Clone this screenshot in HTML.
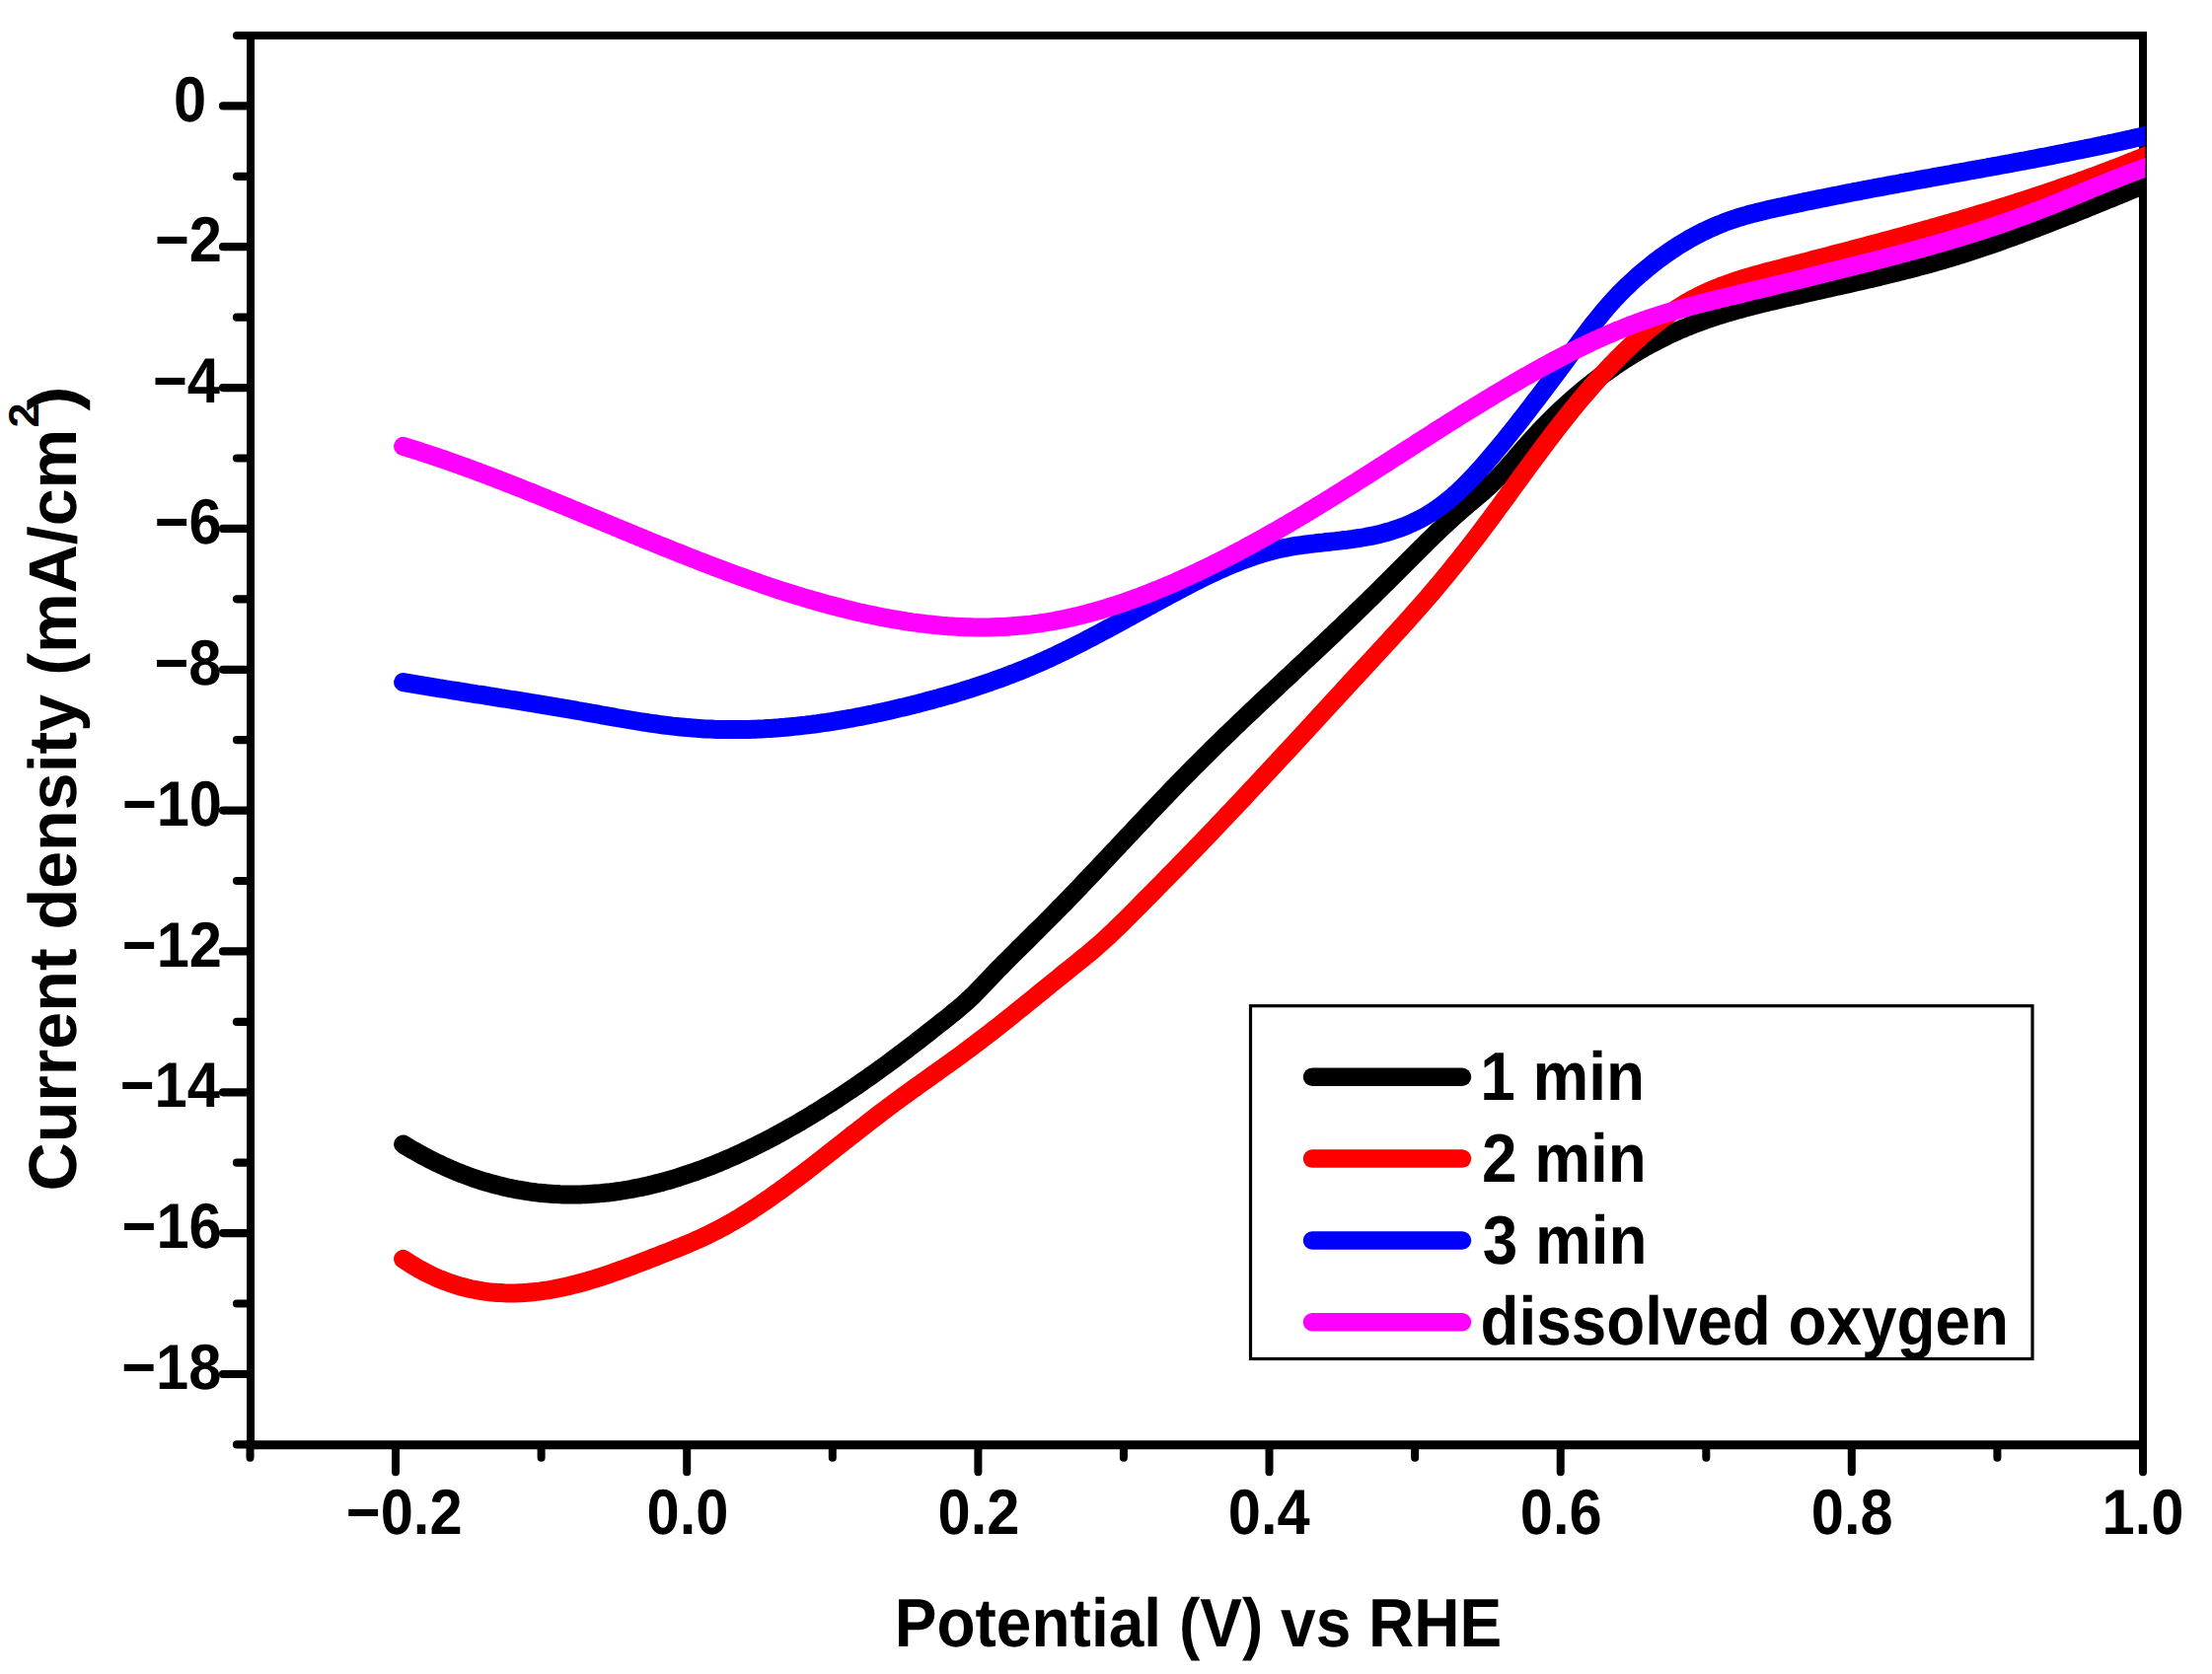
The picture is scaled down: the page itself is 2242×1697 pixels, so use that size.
<!DOCTYPE html>
<html lang="en"><head><meta charset="utf-8"><title>Current density vs potential</title>
<style>html,body{margin:0;padding:0;background:#fff;width:2242px;height:1697px;overflow:hidden}svg{display:block}</style></head>
<body>
<svg width="2242" height="1697" viewBox="0 0 2242 1697">
<rect x="0" y="0" width="2242" height="1697" fill="#fff"/>
<g stroke="#000" fill="none">
<path d="M254.0,36.0 V1464.7 M2172.0,36.0 V1464.7" stroke-width="8.0"/>
<path d="M250.0,36.0 H2176.0" stroke-width="8.2"/>
<path d="M250.0,1464.7 H2176.0" stroke-width="9.0"/>
<path d="M253.0,107.4 H226.0 M253.0,250.2 H226.0 M253.0,393.1 H226.0 M253.0,535.9 H226.0 M253.0,678.8 H226.0 M253.0,821.6 H226.0 M253.0,964.4 H226.0 M253.0,1107.3 H226.0 M253.0,1250.1 H226.0 M253.0,1393.0 H226.0 M253.0,36.0 H240.0 M253.0,178.8 H240.0 M253.0,321.7 H240.0 M253.0,464.5 H240.0 M253.0,607.3 H240.0 M253.0,750.2 H240.0 M253.0,893.0 H240.0 M253.0,1035.9 H240.0 M253.0,1178.7 H240.0 M253.0,1321.5 H240.0 M253.0,1464.4 H240.0" stroke-width="8.2" stroke-linecap="round"/>
<path d="M401.0,1465.7 V1492.2 M696.2,1465.7 V1492.2 M991.4,1465.7 V1492.2 M1286.5,1465.7 V1492.2 M1581.7,1465.7 V1492.2 M1876.8,1465.7 V1492.2 M2172.0,1465.7 V1492.2 M253.5,1465.7 V1477.7 M548.6,1465.7 V1477.7 M843.8,1465.7 V1477.7 M1138.9,1465.7 V1477.7 M1434.1,1465.7 V1477.7 M1729.3,1465.7 V1477.7 M2024.4,1465.7 V1477.7" stroke-width="8.0" stroke-linecap="round"/>
</g>
<clipPath id="pc"><rect x="234.0" y="0" width="1940.5" height="1697"/></clipPath>
<g clip-path="url(#pc)" fill="none" stroke-width="19.0" stroke-linecap="round" stroke-linejoin="round">
<path d="M408.6,1160.0 L411.6,1161.9 L414.6,1163.7 L417.6,1165.4 L420.6,1167.1 L423.6,1168.8 L426.6,1170.5 L429.6,1172.1 L432.6,1173.7 L435.6,1175.3 L438.6,1176.8 L441.6,1178.3 L444.6,1179.7 L447.6,1181.1 L450.6,1182.5 L453.6,1183.8 L456.6,1185.2 L459.6,1186.4 L462.6,1187.7 L465.6,1188.9 L468.6,1190.1 L471.6,1191.2 L474.6,1192.3 L477.6,1193.4 L480.6,1194.4 L483.6,1195.4 L486.6,1196.4 L489.6,1197.4 L492.6,1198.3 L495.6,1199.1 L498.6,1200.0 L501.6,1200.8 L504.6,1201.6 L507.6,1202.3 L510.6,1203.1 L513.6,1203.7 L516.6,1204.4 L519.6,1205.0 L522.6,1205.6 L525.6,1206.2 L528.6,1206.7 L531.6,1207.2 L534.6,1207.7 L537.6,1208.1 L540.6,1208.5 L543.6,1208.9 L546.6,1209.2 L549.6,1209.5 L552.6,1209.8 L555.6,1210.1 L558.6,1210.3 L561.6,1210.5 L564.6,1210.6 L567.6,1210.8 L570.6,1210.9 L573.6,1211.0 L576.6,1211.0 L579.6,1211.0 L582.6,1211.0 L585.6,1211.0 L588.6,1210.9 L591.6,1210.8 L594.6,1210.7 L597.6,1210.5 L600.6,1210.3 L603.6,1210.1 L606.6,1209.9 L609.6,1209.6 L612.6,1209.3 L615.6,1209.0 L618.6,1208.7 L621.6,1208.3 L624.6,1207.9 L627.6,1207.5 L630.6,1207.0 L633.6,1206.5 L636.6,1206.0 L639.6,1205.5 L642.6,1204.9 L645.6,1204.3 L648.6,1203.7 L651.6,1203.1 L654.6,1202.4 L657.6,1201.7 L660.6,1201.0 L663.6,1200.3 L666.6,1199.5 L669.6,1198.8 L672.6,1197.9 L675.6,1197.1 L678.6,1196.3 L681.6,1195.4 L684.6,1194.5 L687.6,1193.6 L690.6,1192.6 L693.6,1191.6 L696.6,1190.6 L699.6,1189.6 L702.6,1188.6 L705.6,1187.5 L708.6,1186.4 L711.6,1185.3 L714.6,1184.2 L717.6,1183.0 L720.6,1181.9 L723.6,1180.7 L726.6,1179.5 L729.6,1178.2 L732.6,1177.0 L735.6,1175.7 L738.6,1174.4 L741.6,1173.1 L744.6,1171.8 L747.6,1170.4 L750.6,1169.0 L753.6,1167.6 L756.6,1166.2 L759.6,1164.8 L762.6,1163.3 L765.6,1161.8 L768.6,1160.3 L771.6,1158.8 L774.6,1157.3 L777.6,1155.7 L780.6,1154.2 L783.6,1152.6 L786.6,1151.0 L789.6,1149.3 L792.6,1147.7 L795.6,1146.0 L798.6,1144.3 L801.6,1142.6 L804.6,1140.9 L807.6,1139.2 L810.6,1137.5 L813.6,1135.7 L816.6,1133.9 L819.6,1132.1 L822.6,1130.3 L825.6,1128.4 L828.6,1126.6 L831.6,1124.7 L834.6,1122.8 L837.6,1120.9 L840.6,1119.0 L843.6,1117.1 L846.6,1115.1 L849.6,1113.2 L852.6,1111.2 L855.6,1109.2 L858.6,1107.2 L861.6,1105.2 L864.6,1103.1 L867.6,1101.1 L870.6,1099.0 L873.6,1096.9 L876.6,1094.8 L879.6,1092.7 L882.6,1090.6 L885.6,1088.5 L888.6,1086.3 L891.6,1084.1 L894.6,1082.0 L897.6,1079.8 L900.6,1077.6 L903.6,1075.4 L906.6,1073.1 L909.6,1070.9 L912.6,1068.6 L915.6,1066.4 L918.6,1064.1 L921.6,1061.8 L924.6,1059.5 L927.6,1057.2 L930.6,1054.9 L933.6,1052.5 L936.6,1050.2 L939.6,1047.9 L942.6,1045.5 L945.6,1043.1 L948.6,1040.8 L951.6,1038.4 L954.6,1036.0 L957.6,1033.7 L960.6,1031.3 L963.6,1028.9 L966.6,1026.4 L969.6,1024.0 L972.6,1021.5 L975.6,1018.9 L978.6,1016.3 L981.6,1013.5 L984.6,1010.7 L987.6,1007.8 L990.6,1004.7 L993.6,1001.6 L996.6,998.4 L999.6,995.2 L1002.6,992.1 L1005.6,988.9 L1008.6,985.8 L1011.6,982.7 L1014.6,979.7 L1017.6,976.6 L1020.6,973.6 L1023.6,970.6 L1026.6,967.6 L1029.6,964.6 L1032.6,961.7 L1035.6,958.7 L1038.6,955.7 L1041.6,952.8 L1044.6,949.8 L1047.6,946.8 L1050.6,943.9 L1053.6,940.9 L1056.6,937.9 L1059.6,934.9 L1062.6,931.9 L1065.6,928.9 L1068.6,925.8 L1071.6,922.8 L1074.6,919.7 L1077.6,916.7 L1080.6,913.6 L1083.6,910.5 L1086.6,907.4 L1089.6,904.2 L1092.6,901.1 L1095.6,898.0 L1098.6,894.8 L1101.6,891.7 L1104.6,888.5 L1107.6,885.4 L1110.6,882.2 L1113.6,879.0 L1116.6,875.8 L1119.6,872.7 L1122.6,869.5 L1125.6,866.3 L1128.6,863.1 L1131.6,859.9 L1134.6,856.7 L1137.6,853.5 L1140.6,850.3 L1143.6,847.1 L1146.6,843.9 L1149.6,840.7 L1152.6,837.5 L1155.6,834.4 L1158.6,831.2 L1161.6,828.0 L1164.6,824.8 L1167.6,821.7 L1170.6,818.5 L1173.6,815.4 L1176.6,812.2 L1179.6,809.1 L1182.6,805.9 L1185.6,802.8 L1188.6,799.7 L1191.6,796.6 L1194.6,793.5 L1197.6,790.4 L1200.6,787.4 L1203.6,784.3 L1206.6,781.3 L1209.6,778.2 L1212.6,775.2 L1215.6,772.2 L1218.6,769.2 L1221.6,766.2 L1224.6,763.3 L1227.6,760.3 L1230.6,757.3 L1233.6,754.4 L1236.6,751.5 L1239.6,748.6 L1242.6,745.7 L1245.6,742.8 L1248.6,739.9 L1251.6,737.0 L1254.6,734.1 L1257.6,731.2 L1260.6,728.4 L1263.6,725.5 L1266.6,722.7 L1269.6,719.8 L1272.6,717.0 L1275.6,714.1 L1278.6,711.3 L1281.6,708.5 L1284.6,705.7 L1287.6,702.8 L1290.6,700.0 L1293.6,697.2 L1296.6,694.4 L1299.6,691.6 L1302.6,688.8 L1305.6,686.0 L1308.6,683.2 L1311.6,680.3 L1314.6,677.5 L1317.6,674.7 L1320.6,671.9 L1323.6,669.1 L1326.6,666.3 L1329.6,663.5 L1332.6,660.7 L1335.6,657.8 L1338.6,655.0 L1341.6,652.2 L1344.6,649.3 L1347.6,646.5 L1350.6,643.7 L1353.6,640.8 L1356.6,637.9 L1359.6,635.1 L1362.6,632.2 L1365.6,629.3 L1368.6,626.5 L1371.6,623.6 L1374.6,620.7 L1377.6,617.7 L1380.6,614.8 L1383.6,611.9 L1386.6,609.0 L1389.6,606.0 L1392.6,603.1 L1395.6,600.1 L1398.6,597.1 L1401.6,594.2 L1404.6,591.2 L1407.6,588.2 L1410.6,585.2 L1413.6,582.2 L1416.6,579.2 L1419.6,576.2 L1422.6,573.2 L1425.6,570.2 L1428.6,567.2 L1431.6,564.2 L1434.6,561.2 L1437.6,558.2 L1440.6,555.2 L1443.6,552.3 L1446.6,549.3 L1449.6,546.4 L1452.6,543.5 L1455.6,540.6 L1458.6,537.7 L1461.6,534.9 L1464.6,532.1 L1467.6,529.3 L1470.6,526.5 L1473.6,523.8 L1476.6,521.1 L1479.6,518.4 L1482.6,515.8 L1485.6,513.2 L1488.6,510.7 L1491.6,508.2 L1494.6,505.7 L1497.6,503.1 L1500.6,500.6 L1503.6,498.0 L1506.6,495.3 L1509.6,492.6 L1512.6,489.7 L1515.6,486.8 L1518.6,483.7 L1521.6,480.5 L1524.6,477.3 L1527.6,474.0 L1530.6,470.6 L1533.6,467.2 L1536.6,463.7 L1539.6,460.3 L1542.6,456.8 L1545.6,453.4 L1548.6,449.9 L1551.6,446.6 L1554.6,443.2 L1557.6,440.0 L1560.6,436.8 L1563.6,433.6 L1566.6,430.5 L1569.6,427.5 L1572.6,424.5 L1575.6,421.5 L1578.6,418.6 L1581.6,415.8 L1584.6,413.0 L1587.6,410.2 L1590.6,407.5 L1593.6,404.8 L1596.6,402.2 L1599.6,399.6 L1602.6,397.1 L1605.6,394.6 L1608.6,392.2 L1611.6,389.8 L1614.6,387.4 L1617.6,385.1 L1620.6,382.8 L1623.6,380.5 L1626.6,378.3 L1629.6,376.2 L1632.6,374.0 L1635.6,371.9 L1638.6,369.9 L1641.6,367.9 L1644.6,365.9 L1647.6,363.9 L1650.6,362.0 L1653.6,360.2 L1656.6,358.3 L1659.6,356.5 L1662.6,354.8 L1665.6,353.0 L1668.6,351.3 L1671.6,349.7 L1674.6,348.1 L1677.6,346.5 L1680.6,344.9 L1683.6,343.4 L1686.6,341.9 L1689.6,340.4 L1692.6,339.0 L1695.6,337.6 L1698.6,336.3 L1701.6,334.9 L1704.6,333.6 L1707.6,332.4 L1710.6,331.1 L1713.6,329.9 L1716.6,328.7 L1719.6,327.6 L1722.6,326.5 L1725.6,325.4 L1728.6,324.3 L1731.6,323.3 L1734.6,322.3 L1737.6,321.3 L1740.6,320.3 L1743.6,319.3 L1746.6,318.4 L1749.6,317.5 L1752.6,316.6 L1755.6,315.7 L1758.6,314.9 L1761.6,314.0 L1764.6,313.2 L1767.6,312.4 L1770.6,311.6 L1773.6,310.8 L1776.6,310.0 L1779.6,309.3 L1782.6,308.5 L1785.6,307.8 L1788.6,307.1 L1791.6,306.3 L1794.6,305.6 L1797.6,304.9 L1800.6,304.2 L1803.6,303.5 L1806.6,302.8 L1809.6,302.1 L1812.6,301.4 L1815.6,300.7 L1818.6,300.0 L1821.6,299.4 L1824.6,298.7 L1827.6,298.0 L1830.6,297.3 L1833.6,296.6 L1836.6,296.0 L1839.6,295.3 L1842.6,294.6 L1845.6,294.0 L1848.6,293.3 L1851.6,292.6 L1854.6,291.9 L1857.6,291.3 L1860.6,290.6 L1863.6,289.9 L1866.6,289.2 L1869.6,288.6 L1872.6,287.9 L1875.6,287.2 L1878.6,286.5 L1881.6,285.8 L1884.6,285.2 L1887.6,284.5 L1890.6,283.8 L1893.6,283.1 L1896.6,282.4 L1899.6,281.7 L1902.6,281.0 L1905.6,280.2 L1908.6,279.5 L1911.6,278.8 L1914.6,278.1 L1917.6,277.3 L1920.6,276.6 L1923.6,275.9 L1926.6,275.1 L1929.6,274.3 L1932.6,273.6 L1935.6,272.8 L1938.6,272.0 L1941.6,271.2 L1944.6,270.4 L1947.6,269.6 L1950.6,268.8 L1953.6,268.0 L1956.6,267.2 L1959.6,266.3 L1962.6,265.5 L1965.6,264.6 L1968.6,263.8 L1971.6,262.9 L1974.6,262.0 L1977.6,261.1 L1980.6,260.2 L1983.6,259.3 L1986.6,258.3 L1989.6,257.4 L1992.6,256.5 L1995.6,255.5 L1998.6,254.5 L2001.6,253.5 L2004.6,252.5 L2007.6,251.5 L2010.6,250.5 L2013.6,249.5 L2016.6,248.5 L2019.6,247.5 L2022.6,246.4 L2025.6,245.4 L2028.6,244.3 L2031.6,243.2 L2034.6,242.1 L2037.6,241.1 L2040.6,240.0 L2043.6,238.9 L2046.6,237.8 L2049.6,236.7 L2052.6,235.5 L2055.6,234.4 L2058.6,233.3 L2061.6,232.1 L2064.6,231.0 L2067.6,229.8 L2070.6,228.7 L2073.6,227.5 L2076.6,226.4 L2079.6,225.2 L2082.6,224.0 L2085.6,222.8 L2088.6,221.7 L2091.6,220.5 L2094.6,219.3 L2097.6,218.1 L2100.6,216.9 L2103.6,215.7 L2106.6,214.5 L2109.6,213.3 L2112.6,212.1 L2115.6,210.9 L2118.6,209.6 L2121.6,208.4 L2124.6,207.2 L2127.6,206.0 L2130.6,204.8 L2133.6,203.5 L2136.6,202.3 L2139.6,201.1 L2142.6,199.9 L2145.6,198.6 L2148.6,197.4 L2151.6,196.2 L2154.6,194.9 L2157.6,193.7 L2160.6,192.5 L2163.6,191.3 L2166.6,190.0 L2169.6,188.8 L2172.6,187.6 L2175.6,186.4 L2178.6,185.1 L2181.6,183.9 L2184.6,182.7" stroke="#000"/>
<path d="M408.6,1276.3 L411.6,1278.3 L414.6,1280.2 L417.6,1282.1 L420.6,1284.0 L423.6,1285.7 L426.6,1287.4 L429.6,1289.0 L432.6,1290.6 L435.6,1292.1 L438.6,1293.5 L441.6,1294.9 L444.6,1296.2 L447.6,1297.4 L450.6,1298.6 L453.6,1299.7 L456.6,1300.8 L459.6,1301.8 L462.6,1302.8 L465.6,1303.7 L468.6,1304.5 L471.6,1305.3 L474.6,1306.0 L477.6,1306.7 L480.6,1307.3 L483.6,1307.9 L486.6,1308.4 L489.6,1308.9 L492.6,1309.3 L495.6,1309.7 L498.6,1310.0 L501.6,1310.2 L504.6,1310.5 L507.6,1310.6 L510.6,1310.8 L513.6,1310.9 L516.6,1310.9 L519.6,1310.9 L522.6,1310.9 L525.6,1310.8 L528.6,1310.7 L531.6,1310.5 L534.6,1310.3 L537.6,1310.0 L540.6,1309.7 L543.6,1309.4 L546.6,1309.1 L549.6,1308.7 L552.6,1308.2 L555.6,1307.8 L558.6,1307.3 L561.6,1306.7 L564.6,1306.1 L567.6,1305.5 L570.6,1304.9 L573.6,1304.2 L576.6,1303.6 L579.6,1302.8 L582.6,1302.1 L585.6,1301.3 L588.6,1300.5 L591.6,1299.7 L594.6,1298.8 L597.6,1297.9 L600.6,1297.0 L603.6,1296.1 L606.6,1295.2 L609.6,1294.2 L612.6,1293.2 L615.6,1292.2 L618.6,1291.2 L621.6,1290.1 L624.6,1289.1 L627.6,1288.0 L630.6,1286.9 L633.6,1285.8 L636.6,1284.7 L639.6,1283.6 L642.6,1282.5 L645.6,1281.3 L648.6,1280.2 L651.6,1279.0 L654.6,1277.9 L657.6,1276.7 L660.6,1275.5 L663.6,1274.4 L666.6,1273.2 L669.6,1272.0 L672.6,1270.8 L675.6,1269.7 L678.6,1268.5 L681.6,1267.3 L684.6,1266.1 L687.6,1264.9 L690.6,1263.7 L693.6,1262.4 L696.6,1261.2 L699.6,1259.9 L702.6,1258.6 L705.6,1257.3 L708.6,1256.0 L711.6,1254.6 L714.6,1253.2 L717.6,1251.8 L720.6,1250.3 L723.6,1248.8 L726.6,1247.3 L729.6,1245.7 L732.6,1244.1 L735.6,1242.5 L738.6,1240.8 L741.6,1239.1 L744.6,1237.3 L747.6,1235.6 L750.6,1233.8 L753.6,1231.9 L756.6,1230.0 L759.6,1228.1 L762.6,1226.2 L765.6,1224.2 L768.6,1222.3 L771.6,1220.2 L774.6,1218.2 L777.6,1216.1 L780.6,1214.1 L783.6,1211.9 L786.6,1209.8 L789.6,1207.7 L792.6,1205.5 L795.6,1203.3 L798.6,1201.1 L801.6,1198.9 L804.6,1196.7 L807.6,1194.4 L810.6,1192.1 L813.6,1189.9 L816.6,1187.6 L819.6,1185.3 L822.6,1183.0 L825.6,1180.6 L828.6,1178.3 L831.6,1176.0 L834.6,1173.6 L837.6,1171.3 L840.6,1168.9 L843.6,1166.6 L846.6,1164.2 L849.6,1161.8 L852.6,1159.5 L855.6,1157.1 L858.6,1154.8 L861.6,1152.4 L864.6,1150.0 L867.6,1147.7 L870.6,1145.3 L873.6,1143.0 L876.6,1140.7 L879.6,1138.3 L882.6,1136.0 L885.6,1133.7 L888.6,1131.4 L891.6,1129.1 L894.6,1126.8 L897.6,1124.6 L900.6,1122.3 L903.6,1120.1 L906.6,1117.8 L909.6,1115.6 L912.6,1113.4 L915.6,1111.2 L918.6,1109.1 L921.6,1106.9 L924.6,1104.7 L927.6,1102.6 L930.6,1100.4 L933.6,1098.3 L936.6,1096.1 L939.6,1094.0 L942.6,1091.9 L945.6,1089.7 L948.6,1087.6 L951.6,1085.4 L954.6,1083.3 L957.6,1081.1 L960.6,1079.0 L963.6,1076.8 L966.6,1074.6 L969.6,1072.5 L972.6,1070.3 L975.6,1068.1 L978.6,1065.9 L981.6,1063.7 L984.6,1061.4 L987.6,1059.2 L990.6,1056.9 L993.6,1054.6 L996.6,1052.3 L999.6,1050.0 L1002.6,1047.7 L1005.6,1045.4 L1008.6,1043.0 L1011.6,1040.7 L1014.6,1038.3 L1017.6,1035.9 L1020.6,1033.6 L1023.6,1031.2 L1026.6,1028.8 L1029.6,1026.3 L1032.6,1023.9 L1035.6,1021.5 L1038.6,1019.1 L1041.6,1016.7 L1044.6,1014.2 L1047.6,1011.8 L1050.6,1009.4 L1053.6,1006.9 L1056.6,1004.5 L1059.6,1002.0 L1062.6,999.6 L1065.6,997.2 L1068.6,994.7 L1071.6,992.3 L1074.6,989.9 L1077.6,987.4 L1080.6,985.0 L1083.6,982.6 L1086.6,980.2 L1089.6,977.8 L1092.6,975.4 L1095.6,972.9 L1098.6,970.5 L1101.6,968.1 L1104.6,965.6 L1107.6,963.1 L1110.6,960.5 L1113.6,957.9 L1116.6,955.2 L1119.6,952.5 L1122.6,949.8 L1125.6,946.9 L1128.6,944.1 L1131.6,941.2 L1134.6,938.3 L1137.6,935.4 L1140.6,932.4 L1143.6,929.4 L1146.6,926.4 L1149.6,923.4 L1152.6,920.4 L1155.6,917.3 L1158.6,914.3 L1161.6,911.2 L1164.6,908.2 L1167.6,905.2 L1170.6,902.1 L1173.6,899.1 L1176.6,896.1 L1179.6,893.0 L1182.6,890.0 L1185.6,886.9 L1188.6,883.9 L1191.6,880.8 L1194.6,877.8 L1197.6,874.7 L1200.6,871.6 L1203.6,868.5 L1206.6,865.4 L1209.6,862.3 L1212.6,859.2 L1215.6,856.1 L1218.6,853.0 L1221.6,849.9 L1224.6,846.7 L1227.6,843.6 L1230.6,840.5 L1233.6,837.3 L1236.6,834.1 L1239.6,831.0 L1242.6,827.8 L1245.6,824.6 L1248.6,821.5 L1251.6,818.3 L1254.6,815.1 L1257.6,811.9 L1260.6,808.7 L1263.6,805.5 L1266.6,802.3 L1269.6,799.1 L1272.6,795.9 L1275.6,792.7 L1278.6,789.5 L1281.6,786.2 L1284.6,783.0 L1287.6,779.8 L1290.6,776.6 L1293.6,773.3 L1296.6,770.1 L1299.6,766.8 L1302.6,763.6 L1305.6,760.4 L1308.6,757.1 L1311.6,753.9 L1314.6,750.6 L1317.6,747.4 L1320.6,744.1 L1323.6,740.9 L1326.6,737.6 L1329.6,734.4 L1332.6,731.1 L1335.6,727.8 L1338.6,724.6 L1341.6,721.3 L1344.6,718.1 L1347.6,714.8 L1350.6,711.6 L1353.6,708.3 L1356.6,705.1 L1359.6,701.8 L1362.6,698.5 L1365.6,695.3 L1368.6,692.0 L1371.6,688.8 L1374.6,685.5 L1377.6,682.3 L1380.6,679.0 L1383.6,675.8 L1386.6,672.6 L1389.6,669.3 L1392.6,666.1 L1395.6,662.8 L1398.6,659.6 L1401.6,656.3 L1404.6,653.1 L1407.6,649.8 L1410.6,646.5 L1413.6,643.2 L1416.6,640.0 L1419.6,636.6 L1422.6,633.3 L1425.6,630.0 L1428.6,626.7 L1431.6,623.3 L1434.6,619.9 L1437.6,616.5 L1440.6,613.1 L1443.6,609.6 L1446.6,606.2 L1449.6,602.7 L1452.6,599.2 L1455.6,595.6 L1458.6,592.1 L1461.6,588.5 L1464.6,584.9 L1467.6,581.2 L1470.6,577.5 L1473.6,573.8 L1476.6,570.1 L1479.6,566.3 L1482.6,562.5 L1485.6,558.7 L1488.6,554.9 L1491.6,551.0 L1494.6,547.1 L1497.6,543.2 L1500.6,539.2 L1503.6,535.2 L1506.6,531.2 L1509.6,527.2 L1512.6,523.2 L1515.6,519.1 L1518.6,515.0 L1521.6,511.0 L1524.6,506.9 L1527.6,502.8 L1530.6,498.6 L1533.6,494.5 L1536.6,490.4 L1539.6,486.3 L1542.6,482.2 L1545.6,478.1 L1548.6,474.0 L1551.6,469.9 L1554.6,465.9 L1557.6,461.8 L1560.6,457.8 L1563.6,453.7 L1566.6,449.7 L1569.6,445.8 L1572.6,441.8 L1575.6,437.9 L1578.6,434.0 L1581.6,430.2 L1584.6,426.4 L1587.6,422.6 L1590.6,418.8 L1593.6,415.1 L1596.6,411.5 L1599.6,407.8 L1602.6,404.2 L1605.6,400.7 L1608.6,397.2 L1611.6,393.7 L1614.6,390.3 L1617.6,386.9 L1620.6,383.5 L1623.6,380.2 L1626.6,377.0 L1629.6,373.8 L1632.6,370.6 L1635.6,367.5 L1638.6,364.4 L1641.6,361.4 L1644.6,358.4 L1647.6,355.4 L1650.6,352.6 L1653.6,349.7 L1656.6,347.0 L1659.6,344.2 L1662.6,341.5 L1665.6,338.9 L1668.6,336.3 L1671.6,333.8 L1674.6,331.4 L1677.6,328.9 L1680.6,326.6 L1683.6,324.3 L1686.6,322.0 L1689.6,319.9 L1692.6,317.7 L1695.6,315.7 L1698.6,313.7 L1701.6,311.7 L1704.6,309.8 L1707.6,308.0 L1710.6,306.2 L1713.6,304.5 L1716.6,302.9 L1719.6,301.3 L1722.6,299.8 L1725.6,298.3 L1728.6,296.9 L1731.6,295.5 L1734.6,294.2 L1737.6,292.9 L1740.6,291.7 L1743.6,290.5 L1746.6,289.4 L1749.6,288.3 L1752.6,287.2 L1755.6,286.2 L1758.6,285.1 L1761.6,284.2 L1764.6,283.2 L1767.6,282.3 L1770.6,281.4 L1773.6,280.5 L1776.6,279.6 L1779.6,278.8 L1782.6,278.0 L1785.6,277.1 L1788.6,276.3 L1791.6,275.5 L1794.6,274.7 L1797.6,274.0 L1800.6,273.2 L1803.6,272.4 L1806.6,271.6 L1809.6,270.8 L1812.6,270.0 L1815.6,269.3 L1818.6,268.5 L1821.6,267.7 L1824.6,266.9 L1827.6,266.1 L1830.6,265.4 L1833.6,264.6 L1836.6,263.8 L1839.6,263.0 L1842.6,262.2 L1845.6,261.4 L1848.6,260.7 L1851.6,259.9 L1854.6,259.1 L1857.6,258.3 L1860.6,257.5 L1863.6,256.7 L1866.6,255.9 L1869.6,255.2 L1872.6,254.4 L1875.6,253.6 L1878.6,252.8 L1881.6,252.0 L1884.6,251.2 L1887.6,250.4 L1890.6,249.6 L1893.6,248.8 L1896.6,248.0 L1899.6,247.2 L1902.6,246.4 L1905.6,245.6 L1908.6,244.8 L1911.6,244.0 L1914.6,243.2 L1917.6,242.4 L1920.6,241.5 L1923.6,240.7 L1926.6,239.9 L1929.6,239.1 L1932.6,238.3 L1935.6,237.4 L1938.6,236.6 L1941.6,235.8 L1944.6,234.9 L1947.6,234.1 L1950.6,233.3 L1953.6,232.4 L1956.6,231.6 L1959.6,230.7 L1962.6,229.9 L1965.6,229.0 L1968.6,228.2 L1971.6,227.3 L1974.6,226.5 L1977.6,225.6 L1980.6,224.7 L1983.6,223.9 L1986.6,223.0 L1989.6,222.1 L1992.6,221.2 L1995.6,220.3 L1998.6,219.4 L2001.6,218.5 L2004.6,217.6 L2007.6,216.7 L2010.6,215.8 L2013.6,214.9 L2016.6,214.0 L2019.6,213.1 L2022.6,212.2 L2025.6,211.2 L2028.6,210.3 L2031.6,209.4 L2034.6,208.4 L2037.6,207.5 L2040.6,206.5 L2043.6,205.6 L2046.6,204.6 L2049.6,203.7 L2052.6,202.7 L2055.6,201.7 L2058.6,200.7 L2061.6,199.7 L2064.6,198.8 L2067.6,197.8 L2070.6,196.8 L2073.6,195.8 L2076.6,194.7 L2079.6,193.7 L2082.6,192.7 L2085.6,191.7 L2088.6,190.6 L2091.6,189.6 L2094.6,188.6 L2097.6,187.5 L2100.6,186.4 L2103.6,185.4 L2106.6,184.3 L2109.6,183.2 L2112.6,182.2 L2115.6,181.1 L2118.6,180.0 L2121.6,178.9 L2124.6,177.8 L2127.6,176.7 L2130.6,175.5 L2133.6,174.4 L2136.6,173.3 L2139.6,172.1 L2142.6,171.0 L2145.6,169.8 L2148.6,168.7 L2151.6,167.5 L2154.6,166.3 L2157.6,165.1 L2160.6,163.9 L2163.6,162.8 L2166.6,161.5 L2169.6,160.3 L2172.6,159.1 L2175.6,157.9 L2178.6,156.7 L2181.6,155.5 L2184.6,154.3" stroke="#f00"/>
<path d="M408.6,691.6 L411.6,692.1 L414.6,692.6 L417.6,693.1 L420.6,693.6 L423.6,694.1 L426.6,694.6 L429.6,695.1 L432.6,695.6 L435.6,696.1 L438.6,696.6 L441.6,697.1 L444.6,697.6 L447.6,698.0 L450.6,698.5 L453.6,699.0 L456.6,699.5 L459.6,700.0 L462.6,700.4 L465.6,700.9 L468.6,701.4 L471.6,701.9 L474.6,702.4 L477.6,702.8 L480.6,703.3 L483.6,703.8 L486.6,704.2 L489.6,704.7 L492.6,705.2 L495.6,705.7 L498.6,706.1 L501.6,706.6 L504.6,707.1 L507.6,707.6 L510.6,708.0 L513.6,708.5 L516.6,709.0 L519.6,709.5 L522.6,709.9 L525.6,710.4 L528.6,710.9 L531.6,711.4 L534.6,711.9 L537.6,712.4 L540.6,712.8 L543.6,713.3 L546.6,713.8 L549.6,714.3 L552.6,714.8 L555.6,715.3 L558.6,715.8 L561.6,716.3 L564.6,716.8 L567.6,717.3 L570.6,717.9 L573.6,718.4 L576.6,718.9 L579.6,719.4 L582.6,719.9 L585.6,720.5 L588.6,721.0 L591.6,721.5 L594.6,722.1 L597.6,722.6 L600.6,723.2 L603.6,723.7 L606.6,724.2 L609.6,724.8 L612.6,725.3 L615.6,725.9 L618.6,726.4 L621.6,726.9 L624.6,727.5 L627.6,728.0 L630.6,728.5 L633.6,729.0 L636.6,729.5 L639.6,730.0 L642.6,730.5 L645.6,731.0 L648.6,731.5 L651.6,732.0 L654.6,732.4 L657.6,732.9 L660.6,733.3 L663.6,733.7 L666.6,734.2 L669.6,734.6 L672.6,735.0 L675.6,735.3 L678.6,735.7 L681.6,736.1 L684.6,736.4 L687.6,736.7 L690.6,737.0 L693.6,737.3 L696.6,737.6 L699.6,737.8 L702.6,738.1 L705.6,738.3 L708.6,738.5 L711.6,738.7 L714.6,738.9 L717.6,739.0 L720.6,739.1 L723.6,739.3 L726.6,739.4 L729.6,739.4 L732.6,739.5 L735.6,739.6 L738.6,739.6 L741.6,739.6 L744.6,739.6 L747.6,739.6 L750.6,739.6 L753.6,739.5 L756.6,739.5 L759.6,739.4 L762.6,739.3 L765.6,739.2 L768.6,739.0 L771.6,738.9 L774.6,738.8 L777.6,738.6 L780.6,738.4 L783.6,738.2 L786.6,738.0 L789.6,737.8 L792.6,737.5 L795.6,737.3 L798.6,737.0 L801.6,736.7 L804.6,736.4 L807.6,736.1 L810.6,735.8 L813.6,735.4 L816.6,735.1 L819.6,734.7 L822.6,734.4 L825.6,734.0 L828.6,733.6 L831.6,733.1 L834.6,732.7 L837.6,732.3 L840.6,731.8 L843.6,731.4 L846.6,730.9 L849.6,730.4 L852.6,729.9 L855.6,729.4 L858.6,728.9 L861.6,728.3 L864.6,727.8 L867.6,727.2 L870.6,726.7 L873.6,726.1 L876.6,725.5 L879.6,724.9 L882.6,724.3 L885.6,723.7 L888.6,723.0 L891.6,722.4 L894.6,721.7 L897.6,721.1 L900.6,720.4 L903.6,719.7 L906.6,719.0 L909.6,718.3 L912.6,717.6 L915.6,716.9 L918.6,716.2 L921.6,715.4 L924.6,714.7 L927.6,713.9 L930.6,713.2 L933.6,712.4 L936.6,711.6 L939.6,710.8 L942.6,710.0 L945.6,709.2 L948.6,708.4 L951.6,707.6 L954.6,706.7 L957.6,705.9 L960.6,705.0 L963.6,704.2 L966.6,703.3 L969.6,702.4 L972.6,701.5 L975.6,700.6 L978.6,699.6 L981.6,698.7 L984.6,697.8 L987.6,696.8 L990.6,695.8 L993.6,694.8 L996.6,693.8 L999.6,692.8 L1002.6,691.8 L1005.6,690.7 L1008.6,689.6 L1011.6,688.6 L1014.6,687.5 L1017.6,686.4 L1020.6,685.2 L1023.6,684.1 L1026.6,682.9 L1029.6,681.8 L1032.6,680.6 L1035.6,679.4 L1038.6,678.2 L1041.6,676.9 L1044.6,675.7 L1047.6,674.4 L1050.6,673.1 L1053.6,671.8 L1056.6,670.5 L1059.6,669.1 L1062.6,667.8 L1065.6,666.4 L1068.6,665.0 L1071.6,663.6 L1074.6,662.1 L1077.6,660.7 L1080.6,659.2 L1083.6,657.8 L1086.6,656.3 L1089.6,654.8 L1092.6,653.2 L1095.6,651.7 L1098.6,650.2 L1101.6,648.6 L1104.6,647.1 L1107.6,645.5 L1110.6,643.9 L1113.6,642.3 L1116.6,640.7 L1119.6,639.1 L1122.6,637.5 L1125.6,635.9 L1128.6,634.3 L1131.6,632.7 L1134.6,631.0 L1137.6,629.4 L1140.6,627.8 L1143.6,626.1 L1146.6,624.5 L1149.6,622.8 L1152.6,621.2 L1155.6,619.6 L1158.6,617.9 L1161.6,616.3 L1164.6,614.6 L1167.6,613.0 L1170.6,611.3 L1173.6,609.7 L1176.6,608.1 L1179.6,606.4 L1182.6,604.8 L1185.6,603.2 L1188.6,601.6 L1191.6,600.0 L1194.6,598.4 L1197.6,596.8 L1200.6,595.2 L1203.6,593.7 L1206.6,592.1 L1209.6,590.6 L1212.6,589.1 L1215.6,587.5 L1218.6,586.1 L1221.6,584.6 L1224.6,583.1 L1227.6,581.7 L1230.6,580.3 L1233.6,578.9 L1236.6,577.5 L1239.6,576.2 L1242.6,574.9 L1245.6,573.6 L1248.6,572.3 L1251.6,571.1 L1254.6,569.9 L1257.6,568.7 L1260.6,567.6 L1263.6,566.4 L1266.6,565.4 L1269.6,564.3 L1272.6,563.3 L1275.6,562.3 L1278.6,561.4 L1281.6,560.5 L1284.6,559.6 L1287.6,558.8 L1290.6,558.0 L1293.6,557.3 L1296.6,556.6 L1299.6,555.9 L1302.6,555.3 L1305.6,554.8 L1308.6,554.2 L1311.6,553.7 L1314.6,553.2 L1317.6,552.8 L1320.6,552.4 L1323.6,552.0 L1326.6,551.6 L1329.6,551.2 L1332.6,550.9 L1335.6,550.5 L1338.6,550.2 L1341.6,549.9 L1344.6,549.5 L1347.6,549.2 L1350.6,548.9 L1353.6,548.6 L1356.6,548.2 L1359.6,547.9 L1362.6,547.5 L1365.6,547.2 L1368.6,546.8 L1371.6,546.4 L1374.6,545.9 L1377.6,545.5 L1380.6,545.0 L1383.6,544.5 L1386.6,543.9 L1389.6,543.4 L1392.6,542.7 L1395.6,542.1 L1398.6,541.4 L1401.6,540.6 L1404.6,539.8 L1407.6,539.0 L1410.6,538.1 L1413.6,537.1 L1416.6,536.1 L1419.6,535.0 L1422.6,533.9 L1425.6,532.7 L1428.6,531.4 L1431.6,530.1 L1434.6,528.6 L1437.6,527.2 L1440.6,525.6 L1443.6,523.9 L1446.6,522.2 L1449.6,520.4 L1452.6,518.5 L1455.6,516.5 L1458.6,514.4 L1461.6,512.2 L1464.6,509.9 L1467.6,507.5 L1470.6,505.0 L1473.6,502.4 L1476.6,499.7 L1479.6,496.9 L1482.6,494.0 L1485.6,491.1 L1488.6,488.0 L1491.6,484.9 L1494.6,481.7 L1497.6,478.4 L1500.6,475.1 L1503.6,471.7 L1506.6,468.3 L1509.6,464.8 L1512.6,461.3 L1515.6,457.7 L1518.6,454.1 L1521.6,450.4 L1524.6,446.8 L1527.6,443.1 L1530.6,439.3 L1533.6,435.6 L1536.6,431.8 L1539.6,428.0 L1542.6,424.1 L1545.6,420.3 L1548.6,416.4 L1551.6,412.5 L1554.6,408.5 L1557.6,404.6 L1560.6,400.7 L1563.6,396.7 L1566.6,392.7 L1569.6,388.7 L1572.6,384.7 L1575.6,380.7 L1578.6,376.7 L1581.6,372.7 L1584.6,368.7 L1587.6,364.6 L1590.6,360.6 L1593.6,356.6 L1596.6,352.6 L1599.6,348.6 L1602.6,344.6 L1605.6,340.6 L1608.6,336.7 L1611.6,332.8 L1614.6,328.9 L1617.6,325.1 L1620.6,321.4 L1623.6,317.7 L1626.6,314.1 L1629.6,310.6 L1632.6,307.2 L1635.6,303.9 L1638.6,300.7 L1641.6,297.5 L1644.6,294.5 L1647.6,291.5 L1650.6,288.7 L1653.6,285.9 L1656.6,283.1 L1659.6,280.4 L1662.6,277.8 L1665.6,275.2 L1668.6,272.7 L1671.6,270.3 L1674.6,267.9 L1677.6,265.5 L1680.6,263.2 L1683.6,261.0 L1686.6,258.8 L1689.6,256.7 L1692.6,254.6 L1695.6,252.6 L1698.6,250.7 L1701.6,248.7 L1704.6,246.9 L1707.6,245.1 L1710.6,243.3 L1713.6,241.6 L1716.6,239.9 L1719.6,238.3 L1722.6,236.8 L1725.6,235.2 L1728.6,233.8 L1731.6,232.4 L1734.6,231.0 L1737.6,229.7 L1740.6,228.4 L1743.6,227.2 L1746.6,226.0 L1749.6,224.8 L1752.6,223.7 L1755.6,222.7 L1758.6,221.7 L1761.6,220.7 L1764.6,219.8 L1767.6,218.9 L1770.6,218.1 L1773.6,217.2 L1776.6,216.4 L1779.6,215.7 L1782.6,214.9 L1785.6,214.2 L1788.6,213.5 L1791.6,212.8 L1794.6,212.1 L1797.6,211.4 L1800.6,210.8 L1803.6,210.1 L1806.6,209.5 L1809.6,208.8 L1812.6,208.2 L1815.6,207.5 L1818.6,206.9 L1821.6,206.2 L1824.6,205.6 L1827.6,205.0 L1830.6,204.3 L1833.6,203.7 L1836.6,203.1 L1839.6,202.5 L1842.6,201.9 L1845.6,201.3 L1848.6,200.7 L1851.6,200.1 L1854.6,199.5 L1857.6,198.9 L1860.6,198.3 L1863.6,197.7 L1866.6,197.1 L1869.6,196.5 L1872.6,195.9 L1875.6,195.3 L1878.6,194.7 L1881.6,194.2 L1884.6,193.6 L1887.6,193.0 L1890.6,192.4 L1893.6,191.9 L1896.6,191.3 L1899.6,190.7 L1902.6,190.2 L1905.6,189.6 L1908.6,189.1 L1911.6,188.5 L1914.6,187.9 L1917.6,187.4 L1920.6,186.8 L1923.6,186.3 L1926.6,185.7 L1929.6,185.2 L1932.6,184.6 L1935.6,184.1 L1938.6,183.5 L1941.6,183.0 L1944.6,182.4 L1947.6,181.9 L1950.6,181.4 L1953.6,180.8 L1956.6,180.3 L1959.6,179.7 L1962.6,179.2 L1965.6,178.6 L1968.6,178.1 L1971.6,177.6 L1974.6,177.0 L1977.6,176.5 L1980.6,175.9 L1983.6,175.4 L1986.6,174.9 L1989.6,174.3 L1992.6,173.8 L1995.6,173.2 L1998.6,172.7 L2001.6,172.1 L2004.6,171.6 L2007.6,171.1 L2010.6,170.5 L2013.6,170.0 L2016.6,169.4 L2019.6,168.9 L2022.6,168.3 L2025.6,167.8 L2028.6,167.2 L2031.6,166.7 L2034.6,166.1 L2037.6,165.6 L2040.6,165.0 L2043.6,164.4 L2046.6,163.9 L2049.6,163.3 L2052.6,162.8 L2055.6,162.2 L2058.6,161.6 L2061.6,161.1 L2064.6,160.5 L2067.6,159.9 L2070.6,159.3 L2073.6,158.8 L2076.6,158.2 L2079.6,157.6 L2082.6,157.0 L2085.6,156.4 L2088.6,155.8 L2091.6,155.2 L2094.6,154.6 L2097.6,154.0 L2100.6,153.4 L2103.6,152.8 L2106.6,152.2 L2109.6,151.6 L2112.6,151.0 L2115.6,150.4 L2118.6,149.8 L2121.6,149.2 L2124.6,148.5 L2127.6,147.9 L2130.6,147.3 L2133.6,146.6 L2136.6,146.0 L2139.6,145.3 L2142.6,144.7 L2145.6,144.0 L2148.6,143.4 L2151.6,142.7 L2154.6,142.1 L2157.6,141.4 L2160.6,140.7 L2163.6,140.0 L2166.6,139.4 L2169.6,138.7 L2172.6,138.0 L2175.6,137.3 L2178.6,136.6 L2181.6,135.9 L2184.6,135.2" stroke="#00f"/>
<path d="M408.6,452.4 L411.6,453.3 L414.6,454.3 L417.6,455.2 L420.6,456.1 L423.6,457.1 L426.6,458.1 L429.6,459.0 L432.6,460.0 L435.6,461.0 L438.6,462.0 L441.6,463.0 L444.6,464.0 L447.6,465.1 L450.6,466.1 L453.6,467.1 L456.6,468.2 L459.6,469.2 L462.6,470.3 L465.6,471.4 L468.6,472.5 L471.6,473.5 L474.6,474.6 L477.6,475.7 L480.6,476.8 L483.6,477.9 L486.6,479.1 L489.6,480.2 L492.6,481.3 L495.6,482.5 L498.6,483.6 L501.6,484.7 L504.6,485.9 L507.6,487.1 L510.6,488.2 L513.6,489.4 L516.6,490.6 L519.6,491.7 L522.6,492.9 L525.6,494.1 L528.6,495.3 L531.6,496.5 L534.6,497.7 L537.6,498.9 L540.6,500.1 L543.6,501.3 L546.6,502.5 L549.6,503.7 L552.6,504.9 L555.6,506.2 L558.6,507.4 L561.6,508.6 L564.6,509.8 L567.6,511.1 L570.6,512.3 L573.6,513.5 L576.6,514.8 L579.6,516.0 L582.6,517.2 L585.6,518.5 L588.6,519.7 L591.6,521.0 L594.6,522.2 L597.6,523.5 L600.6,524.7 L603.6,525.9 L606.6,527.2 L609.6,528.4 L612.6,529.7 L615.6,530.9 L618.6,532.2 L621.6,533.4 L624.6,534.7 L627.6,535.9 L630.6,537.2 L633.6,538.4 L636.6,539.6 L639.6,540.9 L642.6,542.1 L645.6,543.4 L648.6,544.6 L651.6,545.8 L654.6,547.1 L657.6,548.3 L660.6,549.5 L663.6,550.7 L666.6,552.0 L669.6,553.2 L672.6,554.4 L675.6,555.6 L678.6,556.8 L681.6,558.0 L684.6,559.2 L687.6,560.4 L690.6,561.6 L693.6,562.8 L696.6,564.0 L699.6,565.2 L702.6,566.3 L705.6,567.5 L708.6,568.7 L711.6,569.9 L714.6,571.0 L717.6,572.2 L720.6,573.3 L723.6,574.5 L726.6,575.6 L729.6,576.7 L732.6,577.8 L735.6,579.0 L738.6,580.1 L741.6,581.2 L744.6,582.3 L747.6,583.4 L750.6,584.5 L753.6,585.5 L756.6,586.6 L759.6,587.7 L762.6,588.7 L765.6,589.8 L768.6,590.8 L771.6,591.9 L774.6,592.9 L777.6,593.9 L780.6,594.9 L783.6,595.9 L786.6,596.9 L789.6,597.9 L792.6,598.9 L795.6,599.9 L798.6,600.8 L801.6,601.8 L804.6,602.7 L807.6,603.6 L810.6,604.5 L813.6,605.5 L816.6,606.4 L819.6,607.2 L822.6,608.1 L825.6,609.0 L828.6,609.8 L831.6,610.7 L834.6,611.5 L837.6,612.4 L840.6,613.2 L843.6,614.0 L846.6,614.8 L849.6,615.5 L852.6,616.3 L855.6,617.1 L858.6,617.8 L861.6,618.5 L864.6,619.3 L867.6,620.0 L870.6,620.7 L873.6,621.3 L876.6,622.0 L879.6,622.7 L882.6,623.3 L885.6,623.9 L888.6,624.5 L891.6,625.1 L894.6,625.7 L897.6,626.3 L900.6,626.8 L903.6,627.4 L906.6,627.9 L909.6,628.4 L912.6,628.9 L915.6,629.4 L918.6,629.9 L921.6,630.3 L924.6,630.8 L927.6,631.2 L930.6,631.6 L933.6,632.0 L936.6,632.3 L939.6,632.7 L942.6,633.0 L945.6,633.3 L948.6,633.6 L951.6,633.9 L954.6,634.2 L957.6,634.4 L960.6,634.7 L963.6,634.9 L966.6,635.1 L969.6,635.2 L972.6,635.4 L975.6,635.5 L978.6,635.7 L981.6,635.8 L984.6,635.8 L987.6,635.9 L990.6,635.9 L993.6,636.0 L996.6,636.0 L999.6,635.9 L1002.6,635.9 L1005.6,635.8 L1008.6,635.8 L1011.6,635.6 L1014.6,635.5 L1017.6,635.4 L1020.6,635.2 L1023.6,635.0 L1026.6,634.8 L1029.6,634.6 L1032.6,634.3 L1035.6,634.0 L1038.6,633.7 L1041.6,633.4 L1044.6,633.1 L1047.6,632.7 L1050.6,632.3 L1053.6,631.9 L1056.6,631.5 L1059.6,631.0 L1062.6,630.5 L1065.6,630.0 L1068.6,629.5 L1071.6,628.9 L1074.6,628.3 L1077.6,627.7 L1080.6,627.1 L1083.6,626.4 L1086.6,625.8 L1089.6,625.1 L1092.6,624.4 L1095.6,623.6 L1098.6,622.9 L1101.6,622.1 L1104.6,621.3 L1107.6,620.5 L1110.6,619.6 L1113.6,618.8 L1116.6,617.9 L1119.6,617.0 L1122.6,616.1 L1125.6,615.1 L1128.6,614.2 L1131.6,613.2 L1134.6,612.2 L1137.6,611.2 L1140.6,610.2 L1143.6,609.1 L1146.6,608.1 L1149.6,607.0 L1152.6,605.9 L1155.6,604.8 L1158.6,603.6 L1161.6,602.5 L1164.6,601.3 L1167.6,600.1 L1170.6,598.9 L1173.6,597.7 L1176.6,596.5 L1179.6,595.2 L1182.6,593.9 L1185.6,592.7 L1188.6,591.4 L1191.6,590.1 L1194.6,588.7 L1197.6,587.4 L1200.6,586.0 L1203.6,584.7 L1206.6,583.3 L1209.6,581.9 L1212.6,580.5 L1215.6,579.1 L1218.6,577.6 L1221.6,576.2 L1224.6,574.7 L1227.6,573.3 L1230.6,571.8 L1233.6,570.3 L1236.6,568.8 L1239.6,567.2 L1242.6,565.7 L1245.6,564.2 L1248.6,562.6 L1251.6,561.0 L1254.6,559.5 L1257.6,557.9 L1260.6,556.3 L1263.6,554.6 L1266.6,553.0 L1269.6,551.4 L1272.6,549.7 L1275.6,548.1 L1278.6,546.4 L1281.6,544.7 L1284.6,543.0 L1287.6,541.3 L1290.6,539.6 L1293.6,537.9 L1296.6,536.2 L1299.6,534.5 L1302.6,532.7 L1305.6,531.0 L1308.6,529.2 L1311.6,527.4 L1314.6,525.7 L1317.6,523.9 L1320.6,522.1 L1323.6,520.3 L1326.6,518.5 L1329.6,516.7 L1332.6,514.8 L1335.6,513.0 L1338.6,511.2 L1341.6,509.3 L1344.6,507.5 L1347.6,505.6 L1350.6,503.8 L1353.6,501.9 L1356.6,500.0 L1359.6,498.2 L1362.6,496.3 L1365.6,494.4 L1368.6,492.5 L1371.6,490.6 L1374.6,488.7 L1377.6,486.8 L1380.6,484.9 L1383.6,483.0 L1386.6,481.1 L1389.6,479.2 L1392.6,477.3 L1395.6,475.4 L1398.6,473.4 L1401.6,471.5 L1404.6,469.6 L1407.6,467.7 L1410.6,465.7 L1413.6,463.8 L1416.6,461.9 L1419.6,460.0 L1422.6,458.0 L1425.6,456.1 L1428.6,454.2 L1431.6,452.3 L1434.6,450.3 L1437.6,448.4 L1440.6,446.5 L1443.6,444.6 L1446.6,442.7 L1449.6,440.8 L1452.6,438.8 L1455.6,436.9 L1458.6,435.0 L1461.6,433.1 L1464.6,431.2 L1467.6,429.3 L1470.6,427.4 L1473.6,425.6 L1476.6,423.7 L1479.6,421.8 L1482.6,419.9 L1485.6,418.0 L1488.6,416.2 L1491.6,414.3 L1494.6,412.5 L1497.6,410.6 L1500.6,408.8 L1503.6,407.0 L1506.6,405.1 L1509.6,403.3 L1512.6,401.5 L1515.6,399.7 L1518.6,397.9 L1521.6,396.1 L1524.6,394.3 L1527.6,392.5 L1530.6,390.8 L1533.6,389.0 L1536.6,387.3 L1539.6,385.5 L1542.6,383.8 L1545.6,382.1 L1548.6,380.4 L1551.6,378.7 L1554.6,377.0 L1557.6,375.3 L1560.6,373.7 L1563.6,372.0 L1566.6,370.4 L1569.6,368.8 L1572.6,367.1 L1575.6,365.5 L1578.6,364.0 L1581.6,362.4 L1584.6,360.8 L1587.6,359.3 L1590.6,357.7 L1593.6,356.2 L1596.6,354.7 L1599.6,353.2 L1602.6,351.8 L1605.6,350.3 L1608.6,348.9 L1611.6,347.4 L1614.6,346.0 L1617.6,344.6 L1620.6,343.3 L1623.6,341.9 L1626.6,340.6 L1629.6,339.3 L1632.6,338.0 L1635.6,336.7 L1638.6,335.4 L1641.6,334.2 L1644.6,333.0 L1647.6,331.8 L1650.6,330.6 L1653.6,329.4 L1656.6,328.3 L1659.6,327.2 L1662.6,326.1 L1665.6,325.0 L1668.6,324.0 L1671.6,322.9 L1674.6,321.9 L1677.6,321.0 L1680.6,320.0 L1683.6,319.0 L1686.6,318.1 L1689.6,317.2 L1692.6,316.3 L1695.6,315.4 L1698.6,314.5 L1701.6,313.7 L1704.6,312.9 L1707.6,312.0 L1710.6,311.2 L1713.6,310.4 L1716.6,309.6 L1719.6,308.8 L1722.6,308.1 L1725.6,307.3 L1728.6,306.5 L1731.6,305.8 L1734.6,305.0 L1737.6,304.3 L1740.6,303.6 L1743.6,302.8 L1746.6,302.1 L1749.6,301.4 L1752.6,300.6 L1755.6,299.9 L1758.6,299.2 L1761.6,298.5 L1764.6,297.7 L1767.6,297.0 L1770.6,296.3 L1773.6,295.6 L1776.6,294.8 L1779.6,294.1 L1782.6,293.4 L1785.6,292.7 L1788.6,291.9 L1791.6,291.2 L1794.6,290.5 L1797.6,289.7 L1800.6,289.0 L1803.6,288.3 L1806.6,287.6 L1809.6,286.8 L1812.6,286.1 L1815.6,285.4 L1818.6,284.6 L1821.6,283.9 L1824.6,283.2 L1827.6,282.4 L1830.6,281.7 L1833.6,281.0 L1836.6,280.2 L1839.6,279.5 L1842.6,278.7 L1845.6,278.0 L1848.6,277.3 L1851.6,276.5 L1854.6,275.8 L1857.6,275.0 L1860.6,274.3 L1863.6,273.5 L1866.6,272.8 L1869.6,272.0 L1872.6,271.3 L1875.6,270.5 L1878.6,269.8 L1881.6,269.0 L1884.6,268.3 L1887.6,267.5 L1890.6,266.8 L1893.6,266.0 L1896.6,265.2 L1899.6,264.5 L1902.6,263.7 L1905.6,262.9 L1908.6,262.2 L1911.6,261.4 L1914.6,260.6 L1917.6,259.8 L1920.6,259.0 L1923.6,258.2 L1926.6,257.4 L1929.6,256.6 L1932.6,255.8 L1935.6,255.0 L1938.6,254.2 L1941.6,253.4 L1944.6,252.6 L1947.6,251.7 L1950.6,250.9 L1953.6,250.1 L1956.6,249.2 L1959.6,248.4 L1962.6,247.5 L1965.6,246.6 L1968.6,245.8 L1971.6,244.9 L1974.6,244.0 L1977.6,243.1 L1980.6,242.2 L1983.6,241.3 L1986.6,240.4 L1989.6,239.5 L1992.6,238.6 L1995.6,237.7 L1998.6,236.7 L2001.6,235.8 L2004.6,234.8 L2007.6,233.9 L2010.6,232.9 L2013.6,231.9 L2016.6,230.9 L2019.6,229.9 L2022.6,228.9 L2025.6,227.9 L2028.6,226.9 L2031.6,225.9 L2034.6,224.8 L2037.6,223.8 L2040.6,222.7 L2043.6,221.6 L2046.6,220.5 L2049.6,219.5 L2052.6,218.4 L2055.6,217.2 L2058.6,216.1 L2061.6,215.0 L2064.6,213.8 L2067.6,212.7 L2070.6,211.5 L2073.6,210.3 L2076.6,209.2 L2079.6,208.0 L2082.6,206.7 L2085.6,205.5 L2088.6,204.3 L2091.6,203.1 L2094.6,201.8 L2097.6,200.6 L2100.6,199.4 L2103.6,198.1 L2106.6,196.9 L2109.6,195.6 L2112.6,194.4 L2115.6,193.1 L2118.6,191.9 L2121.6,190.6 L2124.6,189.4 L2127.6,188.2 L2130.6,186.9 L2133.6,185.7 L2136.6,184.5 L2139.6,183.3 L2142.6,182.1 L2145.6,180.9 L2148.6,179.7 L2151.6,178.5 L2154.6,177.4 L2157.6,176.2 L2160.6,175.1 L2163.6,174.0 L2166.6,172.9 L2169.6,171.8 L2172.6,170.7 L2175.6,169.6 L2178.6,168.5 L2181.6,167.4 L2184.6,166.4" stroke="#f0f"/>
</g>
<g font-family="'Liberation Sans', Arial, sans-serif" font-weight="700" fill="#000" style="font-kerning:none" text-rendering="geometricPrecision">
<text transform="translate(655.54,1555.30) scale(0.9203,1.0000)" font-size="64.8">0.0</text>
<text transform="translate(950.62,1555.30) scale(0.9203,1)" font-size="64.8">0.2</text>
<text transform="translate(1244.75,1555.30) scale(0.9203,1)" font-size="64.8">0.4</text>
<text transform="translate(1540.83,1555.30) scale(0.9203,1)" font-size="64.8">0.6</text>
<text transform="translate(1835.83,1555.30) scale(0.9203,1)" font-size="64.8">0.8</text>
<text transform="translate(2130.59,1555.30) scale(0.9203,1)" font-size="64.8">1.0</text>
<text transform="translate(350.86,1555.30) scale(0.9203,1)" font-size="64.8">−0.2</text>
<text transform="translate(175.98,122.60) scale(0.9203,1)" font-size="64.8">0</text>
<text transform="translate(156.99,265.44) scale(0.9203,1)" font-size="64.8">−2</text>
<text transform="translate(154.92,408.28) scale(0.9203,1)" font-size="64.8">−4</text>
<text transform="translate(156.76,551.12) scale(0.9203,1)" font-size="64.8">−6</text>
<text transform="translate(156.44,693.96) scale(0.9203,1)" font-size="64.8">−8</text>
<text transform="translate(123.88,836.80) scale(0.9203,1)" font-size="64.8">−10</text>
<text transform="translate(123.82,979.64) scale(0.9203,1)" font-size="64.8">−12</text>
<text transform="translate(121.76,1122.48) scale(0.9203,1)" font-size="64.8">−14</text>
<text transform="translate(123.59,1265.32) scale(0.9203,1)" font-size="64.8">−16</text>
<text transform="translate(123.27,1408.16) scale(0.9203,1)" font-size="64.8">−18</text>
<text transform="translate(906.72,1668.50) scale(0.9213,1.0000)" font-size="69.5">Potential (V) vs RHE</text>
<text transform="translate(1500.58,1363.20) scale(0.9178,1.0000)" font-size="69.5">dissolved oxygen</text>
<text transform="translate(1500.28,1114.80) scale(0.9178,1)" font-size="69.5">1 min</text>
<text transform="translate(1502.09,1197.80) scale(0.9178,1)" font-size="69.5">2 min</text>
<text transform="translate(1502.84,1280.80) scale(0.9178,1)" font-size="69.5">3 min</text>
<text transform="translate(76.50,1207.60) rotate(-90) scale(0.9953,1)" font-size="68.5">Current density (mA/cm</text>
<text transform="translate(38.90,433.56) rotate(-90) scale(1.0434,1)" font-size="43.0">2</text>
<text transform="translate(76.50,416.47) rotate(-90) scale(1.1018,1)" font-size="68.5">)</text>
</g>
<rect x="1267.5" y="1019.7" width="792.5" height="357.8" fill="none" stroke="#000" stroke-width="3.2"/>
<g stroke-width="18.5" stroke-linecap="round" fill="none">
<path d="M1330,1091.8 H1482" stroke="#000"/>
<path d="M1330,1174.6 H1482" stroke="#f00"/>
<path d="M1330,1257.5 H1482" stroke="#00f"/>
<path d="M1330,1340.3 H1482" stroke="#f0f"/>
</g>
</svg>
</body></html>
